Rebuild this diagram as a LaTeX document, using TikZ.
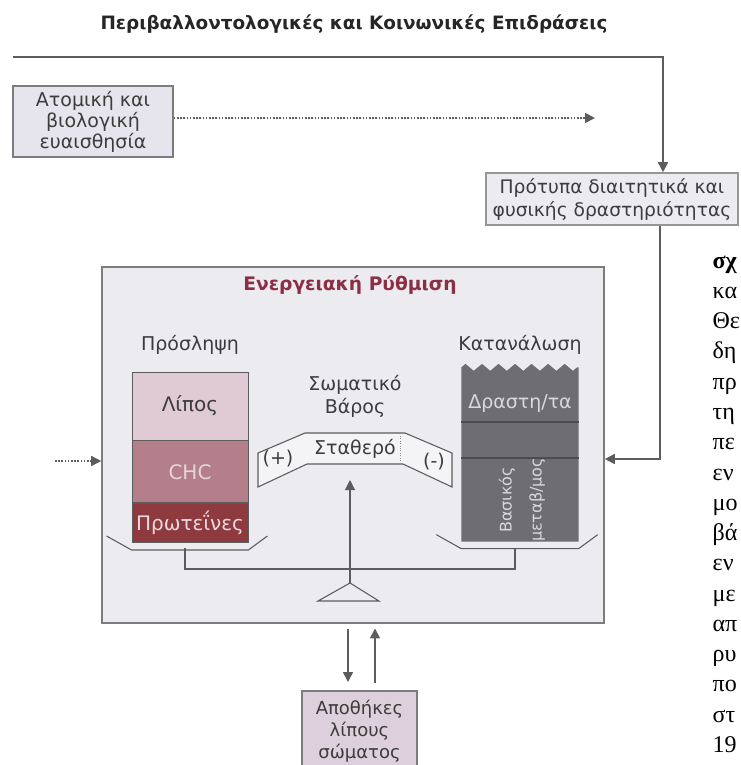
\documentclass[tikz,border=0pt]{standalone}
\usepackage{fontspec}
\setmainfont{DejaVu Sans}
\newfontfamily\capfont{Liberation Serif}
\usetikzlibrary{arrows.meta,positioning,calc,decorations.pathmorphing}

\definecolor{linegray}{HTML}{5C5C5C}
\definecolor{framegray}{HTML}{7C7C7C}
\definecolor{softgray}{HTML}{E6E4EC}
\definecolor{panel}{HTML}{ECEBF0}
\definecolor{labelgray}{HTML}{3C3C3C}
\definecolor{regred}{HTML}{8C2F45}
\definecolor{fatpink}{HTML}{E0CAD3}
\definecolor{chcrose}{HTML}{B47F8A}
\definecolor{protred}{HTML}{8E3A3E}
\definecolor{spendgray}{HTML}{6E6E72}
\definecolor{storepink}{HTML}{DDD0DC}

\begin{document}
\begin{tikzpicture}[x=0.75pt, y=-0.75pt, line width=1pt, >={Triangle[length=7.5pt,width=7.5pt]},
  lbl/.style={text=labelgray, font=\fontsize{14.25}{17.25}\selectfont, align=center},
  plainbox/.style={rectangle, draw=framegray, line width=1.2pt, fill=softgray, text=labelgray, align=center, inner sep=0pt, font=\fontsize{14.25}{15.75}\selectfont},
  layer/.style={rectangle, draw=linegray, line width=0.6pt, minimum width=87pt, inner sep=0pt, font=\fontsize{15}{17}\selectfont},
  dots/.style={draw=linegray, line width=1.2pt, dash pattern=on 1.2pt off 1.2pt}]

  \fill[white] (0,0) rectangle (741,765);
  \useasboundingbox (0,0) rectangle (741,765);

  \node[font=\fontsize{13.8}{16}\selectfont\bfseries, text=black!85] (env) at (354,24) {Περιβαλλοντολογικές και Κοινωνικές Επιδράσεις};

  \node[plainbox, minimum width=120pt, minimum height=53.25pt] (atomic) at (93,121.5) {Ατομική και\\βιολογική\\ευαισθησία};
  \node[plainbox, fill=panel, draw=framegray!80, minimum width=189pt, minimum height=39pt, font=\fontsize{14}{17.25}\selectfont] (patterns) at (612,199) {Πρότυπα διαιτητικά και\\φυσικής δραστηριότητας};
  \node[plainbox, fill=panel, minimum width=376.5pt, minimum height=267pt] (regbox) at (353,445) {};
  \node[plainbox, fill=storepink, anchor=north, minimum width=86.25pt, inner ysep=7pt, font=\fontsize{13.5}{16.5}\selectfont] (stores) at (359.5,690) {Αποθήκες\\λίπους\\σώματος};

  \coordinate (envstart) at (13,57);
  \coordinate (envturn) at (663,57);
  \coordinate (senseend) at (595,118);
  \coordinate (fbturn) at (660,459);
  \coordinate (leftstart) at (55,461);
  \draw[->, linegray, line width=1.2pt] (envstart) -- (envturn) -- (envturn |- patterns.north);
  \draw[->, dots] (atomic.east |- senseend) -- (senseend);
  \draw[->, linegray, line width=1.2pt] (fbturn |- patterns.south) -- (fbturn) -- (fbturn -| regbox.east);
  \draw[->, dots] (leftstart) -- (leftstart -| regbox.west);

  \node[font=\fontsize{14}{17}\selectfont\bfseries, text=regred] (regtitle) at (350,285) {Ενεργειακή Ρύθμιση};

  \node[lbl] (intake) at (190,345) {Πρόσληψη};
  \node[layer, fill=fatpink, minimum height=51pt, text=labelgray] (fat) at (190,406) {Λίπος};
  \node[layer, fill=chcrose, minimum height=46.5pt, text=fatpink!80!white, below=0pt of fat] (chc) {CHC};
  \node[layer, fill=protred, minimum height=29.25pt, text=fatpink!70!white, below=0pt of chc] (prot) {Πρωτεΐνες};

  \node[lbl] (weight) at (355,396) {Σωματικό\\Βάρος};
  \draw[fill=panel!60!white, draw=linegray, line width=0.8pt] (258,453) -- (305,433) -- (405,433) -- (452,453) -- (452,487) -- (403,464) -- (307,464) -- (258,487) -- cycle;
  \draw[linegray!70, line width=0.6pt, dash pattern=on 0.8pt off 1pt] (400,436) -- (400,462);
  \node[lbl] (stable) at (355,449) {Σταθερό};
  \node[lbl] (plus) at (278,459) {(+)};
  \node[lbl] (minus) at (434,462) {(-)};

  \node[lbl] (spendlbl) at (520,345) {Κατανάλωση};
  \node[inner sep=0pt, minimum width=87pt, minimum height=129.75pt] (spend) at (520,454.5) {};
  \fill[spendgray] (spend.south west) -- (spend.north west) decorate[decoration={zigzag, segment length=12.4pt, amplitude=2.6pt}] {-- (spend.north east)} -- (spend.south east) -- cycle;
  \coordinate (actline) at (0,422);
  \coordinate (bmrline) at (0,458);
  \draw[black!70, line width=0.8pt] (spend.west |- actline) -- (spend.east |- actline);
  \draw[black!70, line width=0.8pt] (spend.west |- bmrline) -- (spend.east |- bmrline);
  \node[lbl, text=white!85!black] (act) at (520,404) {Δραστη/τα};
  \node[lbl, rotate=90, text=white!85!black, font=\fontsize{12}{22.5}\selectfont] (bmr) at (522,500) {Βασικός\\μεταβ/μος};

  \draw[linegray, line width=0.8pt] ($(prot.south west)+(-25,-7)$) -- ($(prot.south west)+(0,7)$) -- ($(prot.south east)+(0,7)$) -- ($(prot.south east)+(19,-7)$);
  \draw[linegray, line width=0.8pt] ($(spend.south west)+(-25,-7)$) -- ($(spend.south west)+(0,7)$) -- ($(spend.south east)+(0,7)$) -- ($(spend.south east)+(19,-7)$);

  \coordinate (beamleft) at (185,569);
  \coordinate (beamright) at (515,569);
  \coordinate (pivot) at (350,583);
  \coordinate (stablebot) at (350,480);
  \draw[linegray, line width=0.8pt] (beamleft) ++(0,-21) -- (beamleft) -- (beamright) -- ++(0,-21);
  \draw[->, linegray, line width=0.8pt] (pivot) -- (stablebot);
  \draw[linegray, line width=0.8pt] (pivot) -- ++(-32,18) -- ++(61,0) -- cycle;

  \coordinate (downx) at (348,0);
  \coordinate (upx) at (375,0);
  \draw[->, linegray, line width=1.2pt, shorten <=4pt, shorten >=6pt] (regbox.south -| downx) -- (stores.north -| downx);
  \draw[->, linegray, line width=1.2pt, shorten <=5pt, shorten >=3.5pt] (stores.north -| upx) -- (regbox.south -| upx);

  \node[anchor=north west, align=left, inner sep=0pt, font=\capfont\fontsize{18}{22.7}\selectfont] (caption) at (712,255) {\textbf{σχ}\\κα\\Θε\\δη\\πρ\\τη\\πε\\εν\\μο\\βά\\εν\\με\\απ\\ρυ\\πο\\στ\\19};
\end{tikzpicture}
\end{document}
